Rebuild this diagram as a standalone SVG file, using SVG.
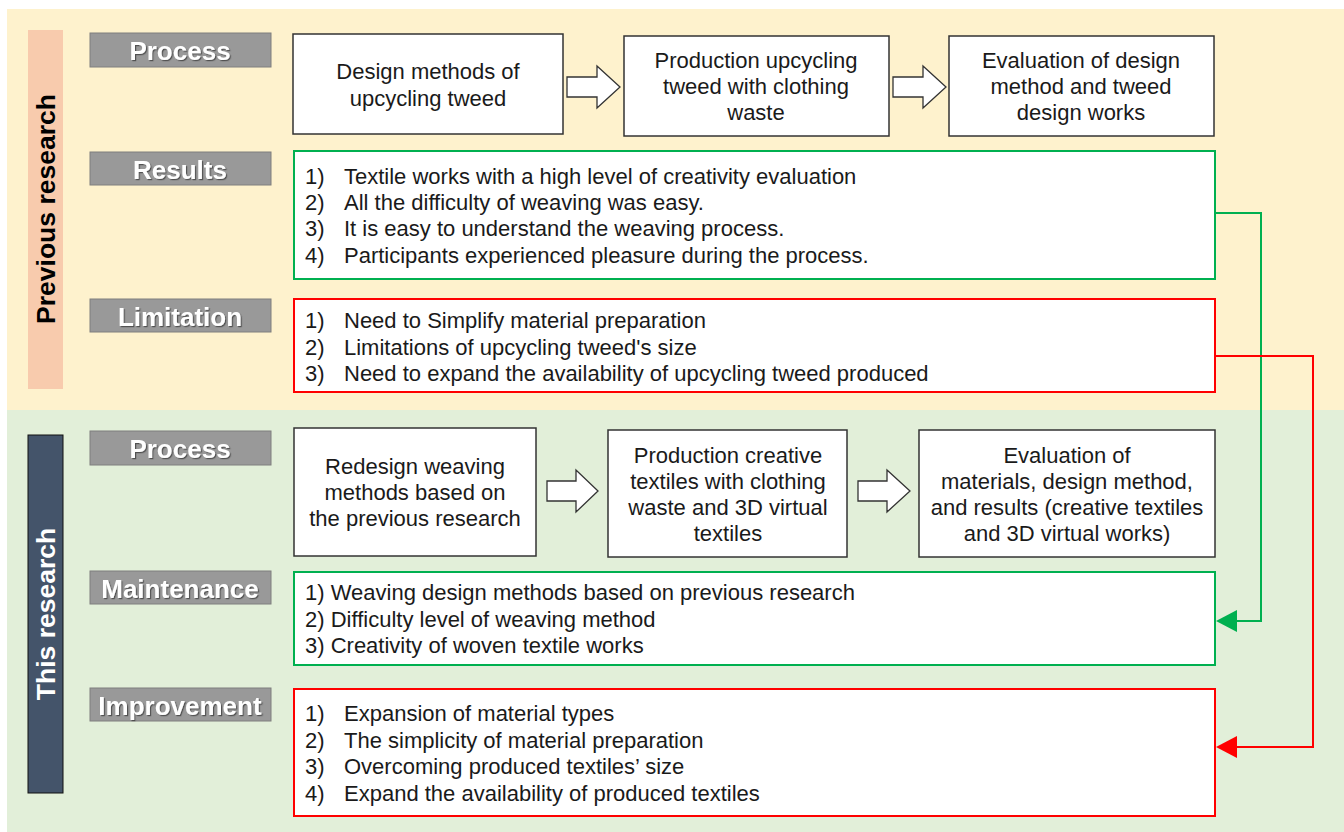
<svg xmlns="http://www.w3.org/2000/svg" width="1344" height="832" viewBox="0 0 1344 832">
<defs>
<style>
.t{font-family:"Liberation Sans",Arial,sans-serif;font-size:22px;fill:#1a1a1a}
.c{text-anchor:middle}
.lab{fill:#999999;stroke:#7f7f7f;stroke-width:1}
.lt{font-family:"Liberation Sans",Arial,sans-serif;font-size:26px;font-weight:bold;fill:#ffffff;text-anchor:middle;filter:url(#sh)}
.pb{fill:#ffffff;stroke:#333333;stroke-width:1.5}
.gb{fill:#ffffff;stroke:#00b050;stroke-width:2}
.rb{fill:#ffffff;stroke:#ff0000;stroke-width:2}
.ba{fill:#ffffff;stroke:#333333;stroke-width:1.3}
.bt{font-family:"Liberation Sans",Arial,sans-serif;font-size:26.5px;font-weight:bold;text-anchor:middle}
</style>
<filter id="sh" x="-10%" y="-20%" width="120%" height="150%">
<feDropShadow dx="1.2" dy="1.2" stdDeviation="0.6" flood-color="#333333" flood-opacity="0.7"/>
</filter>
</defs>
<rect x="0" y="0" width="1344" height="832" fill="#ffffff"/>
<rect x="7" y="9" width="1337" height="401" fill="#fef2cd"/>
<rect x="7" y="410" width="1337" height="422" fill="#e2efd9"/>

<g id="band-previous">
<rect x="28" y="30" width="35" height="359" fill="#f8cbad"/>
<text class="bt" transform="translate(55 209) rotate(-90)" fill="#000">Previous research</text>
</g>
<g id="band-this">
<rect x="28" y="435" width="35" height="358" fill="#44546a" stroke="#111" stroke-width="1"/>
<text class="bt" transform="translate(55 614) rotate(-90)" fill="#fff">This research</text>
</g>

<g id="label-process1"><rect class="lab" x="90" y="33" width="181" height="34"/><text class="lt" x="180" y="60">Process</text></g>
<g id="label-results"><rect class="lab" x="90" y="152" width="181" height="33"/><text class="lt" x="180" y="179">Results</text></g>
<g id="label-limitation"><rect class="lab" x="90" y="299" width="181" height="33"/><text class="lt" x="180" y="326">Limitation</text></g>
<g id="label-process2"><rect class="lab" x="90" y="431" width="181" height="34"/><text class="lt" x="180" y="458">Process</text></g>
<g id="label-maintenance"><rect class="lab" x="90" y="571" width="181" height="33"/><text class="lt" x="180" y="598">Maintenance</text></g>
<g id="label-improvement"><rect class="lab" x="90" y="688" width="181" height="33"/><text class="lt" x="180" y="715">Improvement</text></g>

<g id="p1a"><rect class="pb" x="293" y="34" width="270" height="100"/>
<text class="t c" x="428" y="79">Design methods of</text><text class="t c" x="428" y="106">upcycling tweed</text></g>
<g id="p1b"><rect class="pb" x="624" y="36" width="265" height="100"/>
<text class="t c" x="756" y="68">Production upcycling</text><text class="t c" x="756" y="94">tweed with clothing</text><text class="t c" x="756" y="120">waste</text></g>
<g id="p1c"><rect class="pb" x="949" y="36" width="265" height="100"/>
<text class="t c" x="1081" y="68">Evaluation of design</text><text class="t c" x="1081" y="94">method and tweed</text><text class="t c" x="1081" y="120">design works</text></g>

<g id="results"><rect class="gb" x="294" y="151" width="921" height="128"/>
<text class="t" x="305" y="184">1)</text><text class="t" x="344" y="184">Textile works with a high level of creativity evaluation</text>
<text class="t" x="305" y="210">2)</text><text class="t" x="344" y="210">All the difficulty of weaving was easy.</text>
<text class="t" x="305" y="236">3)</text><text class="t" x="344" y="236">It is easy to understand the weaving process.</text>
<text class="t" x="305" y="263">4)</text><text class="t" x="344" y="263">Participants experienced pleasure during the process.</text></g>

<g id="limitation"><rect class="rb" x="294" y="299" width="921" height="93"/>
<text class="t" x="305" y="328">1)</text><text class="t" x="344" y="328">Need to Simplify material preparation</text>
<text class="t" x="305" y="355">2)</text><text class="t" x="344" y="355">Limitations of upcycling tweed's size</text>
<text class="t" x="305" y="381">3)</text><text class="t" x="344" y="381">Need to expand the availability of upcycling tweed produced</text></g>

<g id="p2a"><rect class="pb" x="294" y="428" width="242" height="128"/>
<text class="t c" x="415" y="474">Redesign weaving</text><text class="t c" x="415" y="500">methods based on</text><text class="t c" x="415" y="526">the previous research</text></g>
<g id="p2b"><rect class="pb" x="608" y="430" width="239" height="127"/>
<text class="t c" x="728" y="463">Production creative</text><text class="t c" x="728" y="489">textiles with clothing</text><text class="t c" x="728" y="515">waste and 3D virtual</text><text class="t c" x="728" y="541">textiles</text></g>
<g id="p2c"><rect class="pb" x="919" y="430" width="296" height="127"/>
<text class="t c" x="1067" y="463">Evaluation of</text><text class="t c" x="1067" y="489">materials, design method,</text><text class="t c" x="1067" y="515">and results (creative textiles</text><text class="t c" x="1067" y="541">and 3D virtual works)</text></g>

<g id="maintenance"><rect class="gb" x="294" y="572" width="921" height="93"/>
<text class="t" x="305" y="600">1) Weaving design methods based on previous research</text>
<text class="t" x="305" y="627">2) Difficulty level of weaving method</text>
<text class="t" x="305" y="653">3) Creativity of woven textile works</text></g>

<g id="improvement"><rect class="rb" x="294" y="689" width="921" height="127"/>
<text class="t" x="305" y="721">1)</text><text class="t" x="344" y="721">Expansion of material types</text>
<text class="t" x="305" y="748">2)</text><text class="t" x="344" y="748">The simplicity of material preparation</text>
<text class="t" x="305" y="774">3)</text><text class="t" x="344" y="774">Overcoming produced textiles’ size</text>
<text class="t" x="305" y="801">4)</text><text class="t" x="344" y="801">Expand the availability of produced textiles</text></g>

<g id="connectors">
<path class="ba" d="M567,77 H597 V66 L620,87 L597,108 V97 H567 Z"/>
<path class="ba" d="M893,77 H923 V66 L946,87 L923,108 V97 H893 Z"/>
<path class="ba" d="M547,481 H576 V470 L598,491 L576,512 V501 H547 Z"/>
<path class="ba" d="M858,481 H887 V470 L910,491 L887,512 V501 H858 Z"/>
<polyline points="1215,213 1261,213 1261,621 1236,621" fill="none" stroke="#00b050" stroke-width="2"/>
<polygon points="1216,621 1237,610 1237,632" fill="#00b050"/>
<polyline points="1215,356 1313,356 1313,747 1236,747" fill="none" stroke="#ff0000" stroke-width="2"/>
<polygon points="1216,747 1237,736 1237,758" fill="#ff0000"/>
</g>
</svg>
